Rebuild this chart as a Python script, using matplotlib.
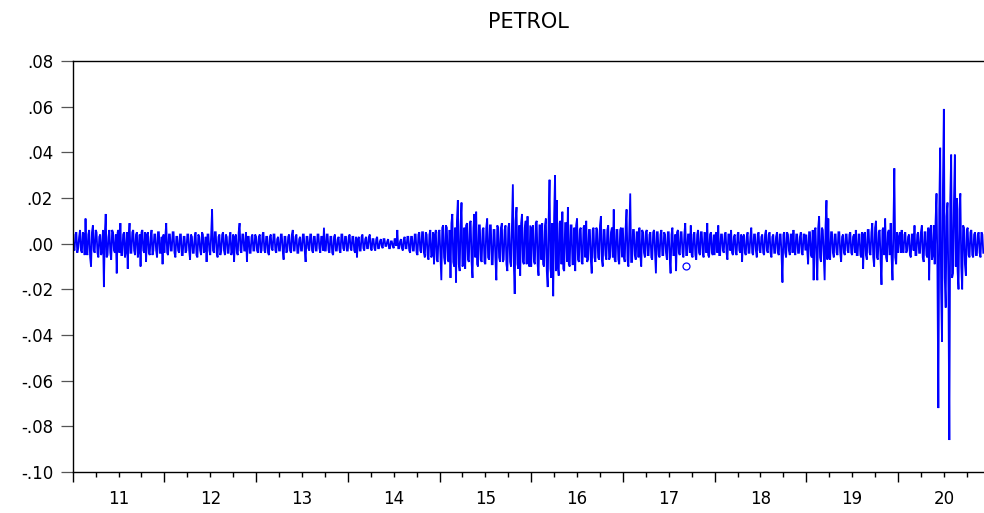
import numpy as np
import matplotlib
matplotlib.use('Agg')
import matplotlib.pyplot as plt
from matplotlib.ticker import FixedLocator, FuncFormatter

# ── Data: PETROL returns in units of 0.001 ───────────────────────────────────
SCALE = 1e-3
PTS_PER_YEAR = 100

years = [2011, 2012, 2013, 2014, 2015, 2016, 2017, 2018, 2019, 2020]

petrol_2011 = [3, -2, -3, 4, 5, -4, -2, 3, 6, -3, -4, 5, 4, -5, 11, -3, -5, 4, 6, -6,
               -10, 5, 8, -3, -4, 6, 5, -4, -6, 3, 4, -5, -3, 6, -19, 4, 13, -6, -5, 3,
               6, -4, -7, 6, 5, -3, -4, 4, -13, 5, 6, -4, 9, -5, -5, 4, 5, -6, -3, 5,
               -11, 3, 9, -4, -4, 5, 6, -3, -5, 4, 5, -6, -3, 4, -10, 5, 6, -3, -4, 5,
               -8, 4, 5, -4, -5, 3, 6, -5, -3, 4, 4, -3, -6, 5, 5, -4, -4, 3, -9, 4]
petrol_2012 = [-4, 3, 9, -4, -5, 4, 4, -3, -3, 5, 5, -4, -6, 3, 3, -3, -4, 4, 4, -5,
               -5, 3, 3, -4, -3, 4, 4, -3, -7, 4, 3, -4, -4, 3, 5, -5, -6, 4, 3, -3,
               -5, 5, 4, -4, -3, 3, -8, 4, 4, -3, -5, 4, 15, -3, -4, 5, 5, -4, -6, 3,
               4, -5, -3, 4, 5, -3, -5, 4, 3, -4, -4, 3, 5, -5, -3, 4, -8, 3, 4, -4,
               -5, 5, 9, -3, -4, 4, 4, -3, -3, 5, -8, 3, 3, -4, -4, 3, 4, -3, -3, 4]
petrol_2013 = [3, -3, -4, 3, 4, -4, -3, 4, 5, -3, -4, 3, 3, -4, -5, 3, 4, -2, -3, 4,
               4, -3, -4, 2, 3, -3, -3, 4, 4, -3, -7, 3, 3, -4, -3, 3, 4, -3, -4, 4,
               6, -3, -3, 3, 4, -4, -4, 2, 3, -3, -3, 4, 4, -3, -8, 3, 3, -2, -3, 4,
               4, -3, -4, 3, 3, -3, -3, 4, 4, -2, -4, 3, 3, -3, 7, -3, -3, 4, 4, -3,
               -4, 3, 3, -4, -5, 3, 4, -3, -3, 2, 3, -3, -4, 4, 4, -2, -3, 3, 3, -3]
petrol_2014 = [-3, 3, 4, -2, -3, 3, 3, -3, -4, 3, -6, 2, 3, -3, -3, 3, 4, -2, -3, 2,
               3, -2, -2, 3, 4, -2, -3, 2, 2, -2, -3, 2, 3, -2, -2, 1, 2, -1, -2, 2,
               2, -1, -1, 1, 2, -2, -2, 1, 1, -1, -2, 2, 2, -1, 6, -2, -2, 1, 2, -2,
               -3, 2, 3, -2, -2, 3, 3, -3, -4, 3, 3, -3, -3, 4, 4, -4, -5, 4, 5, -3,
               -4, 5, 5, -4, -6, 5, 4, -5, -7, 4, 6, -6, -5, 5, -9, 4, 6, -7, -8, 5]
petrol_2015 = [6, -5, -16, 7, 8, -6, -9, 8, 7, -7, -8, 6, -15, 9, 13, -8, -10, 7, -17, 10,
               19, -9, -12, 8, 18, -10, -9, 7, -11, 8, 9, -7, -8, 9, 10, -8, -15, 7, 13, -6,
               14, -9, -10, 8, 8, -7, -8, 6, 7, -8, -9, 7, 11, -6, -7, 8, 8, -9, -9, 6,
               6, -7, -16, 8, 7, -6, -8, 7, 9, -8, -7, 6, 8, -9, -12, 7, 9, -8, -10, 9,
               26, -8, -22, 10, 16, -9, -11, 8, -14, 9, 13, -8, -9, 7, 10, -9, 12, -8, -10, 8]
petrol_2016 = [-10, 7, 8, -8, -9, 9, 10, -9, -14, 8, 8, -7, 9, -9, -10, 8, 11, -12, -19, 10,
               28, -11, -15, 9, -23, 12, 30, -12, 19, -10, -14, 9, 10, -9, 14, -11, -12, 9, 9, -8,
               16, -9, -10, 8, 8, -9, -9, 7, -12, 8, 11, -7, -8, 6, 7, -8, -9, 7, 8, -6,
               10, -8, -7, 6, 6, -7, -13, 6, 7, -6, -8, 7, 6, -6, -7, 8, 12, -7, -10, 6,
               6, -5, -7, 6, 8, -7, -6, 5, 7, -6, 15, -7, -8, 6, 6, -7, -9, 6, 7, -6]
petrol_2017 = [7, -6, -8, 7, 15, -7, -10, 6, 22, -8, -8, 6, 6, -5, -7, 5, 5, -6, 7, -5,
               -10, 6, 5, -4, -6, 5, 6, -5, -5, 4, 5, -6, -7, 5, 6, -4, -13, 5, 5, -5,
               -6, 4, 6, -5, -5, 5, 4, -4, -7, 5, 5, -6, -13, 4, 7, -5, -5, 4, -12, 5,
               6, -4, -5, 5, 5, -4, -6, 4, 9, -5, -5, 4, 4, -4, 8, -5, -6, 4, 5, -5,
               -7, 4, 6, -4, -5, 5, 5, -4, -6, 5, 4, -4, 9, -5, -6, 4, 5, -4, -5, 4]
petrol_2018 = [-5, 4, 5, -4, 8, -5, -5, 4, 4, -3, -4, 4, 5, -4, -7, 4, 4, -3, 6, -4,
               -5, 3, 4, -4, -5, 4, 5, -3, -4, 4, -8, 3, 4, -4, -5, 3, 5, -4, -4, 3,
               7, -4, -5, 4, 4, -3, -6, 4, 5, -3, -4, 3, 4, -4, -5, 4, 6, -3, -4, 4,
               5, -4, -6, 3, 4, -4, -4, 3, 5, -4, -5, 4, 4, -5, -17, 4, 5, -4, -6, 5,
               4, -3, -5, 4, 4, -4, 6, -3, -5, 4, 4, -4, -4, 3, 5, -4, -5, 4, 4, -3]
petrol_2019 = [4, -3, -9, 5, 5, -5, -6, 6, -16, 5, 7, -6, -16, 7, 12, -6, -8, 7, 6, -5,
               -16, 8, 19, -7, 11, -6, -7, 5, 5, -4, -6, 4, 4, -4, -5, 5, 5, -4, -8, 3,
               4, -4, -5, 4, 4, -3, -4, 4, 5, -4, -5, 3, 4, -4, 6, -5, -5, 4, 4, -5,
               -6, 5, -11, 4, 5, -5, -7, 6, 6, -4, -5, 5, 9, -6, -10, 7, 10, -6, -7, 5,
               6, -7, -18, 6, 7, -5, 11, -6, -8, 5, 6, -5, 9, -6, -16, 7, 33, -6, -9, 5]
petrol_2020 = [-4, 3, 5, -4, 6, -3, -4, 4, 5, -4, -3, 3, 4, -5, -6, 4, 4, -3, 8, -5,
               -5, 4, 5, -4, -4, 5, 8, -6, -8, 5, 5, -5, -6, 7, -16, 6, 8, -7, -5, 8,
               -9, 10, 22, -12, -72, 15, 42, -20, -43, 25, 59, -15, -28, 12, 18, -20, -86, 20, 39, -15,
               -13, 18, 39, -10, 20, -12, -20, 15, 22, -10, -20, 8, 7, -9, -14, 6, 7, -5, -6, 5,
               6, -5, -6, 4, 5, -5, -5, 4, 5, -4, -6, 5, 4, -4]

yearly = [petrol_2011, petrol_2012, petrol_2013, petrol_2014, petrol_2015,
          petrol_2016, petrol_2017, petrol_2018, petrol_2019, petrol_2020]

# small open circle visible in the original (2017)
marker_date = 2017.69
marker_value = -0.0098

# ── Build the series ──────────────────────────────────────────────────────────
x = np.concatenate([yr + np.arange(len(v)) / PTS_PER_YEAR for yr, v in zip(years, yearly)])
y = np.concatenate([np.array(v, dtype=float) * SCALE for v in yearly])

plt.rcParams['font.family'] = ['DejaVu Sans']

fig = plt.figure(figsize=(9.84, 5.13), dpi=100)
W, H = 984, 513
ax = fig.add_axes([72.7 / W, (H - 472) / H, (W - 72.7) / W, (472 - 61) / H])

ax.plot(x, y, color='#0000FF', lw=1.3, solid_joinstyle='miter')
ax.plot([marker_date], [marker_value], marker='o', mfc='none', mec='#0000FF',
        ms=5, mew=0.9, ls='none')

ax.set_xlim(2011, 2011 + (W - 72.7) / 91.7)
ax.set_ylim(-0.10, 0.08)

# frame
for s in ['left', 'bottom', 'top']:
    ax.spines[s].set_linewidth(1.0)
    ax.spines[s].set_color('black')
ax.spines['right'].set_visible(False)

# y axis
yt = np.round(np.arange(-0.10, 0.081, 0.02), 2)
ax.yaxis.set_major_locator(FixedLocator(yt))
ax.yaxis.set_major_formatter(FuncFormatter(lambda v, p: f"{v:.2f}".replace("0.", ".", 1)))
ax.tick_params(axis='y', direction='out', length=8.6, width=0.9, color='#555555',
               pad=5.5, labelsize=12)

# x axis: year boundaries (major), quarters (minor), labels mid-year
ax.xaxis.set_major_locator(FixedLocator(years))
ax.xaxis.set_minor_locator(FixedLocator([yr + q / 4 for yr in years for q in (1, 2, 3)]))
ax.tick_params(axis='x', which='major', direction='out', length=7, width=1.0,
               color='black', labelbottom=False)
ax.tick_params(axis='x', which='minor', direction='out', length=3.5, width=1.0,
               color='black')
for yr in years:
    ax.annotate(str(yr)[2:], xy=(yr + 0.5, 0), xycoords=('data', 'axes fraction'),
                xytext=(0, -13), textcoords='offset points',
                ha='center', va='top', fontsize=12)

ax.set_title('PETROL', fontsize=15, pad=23.5)

fig.savefig('out.png', dpi=100)
